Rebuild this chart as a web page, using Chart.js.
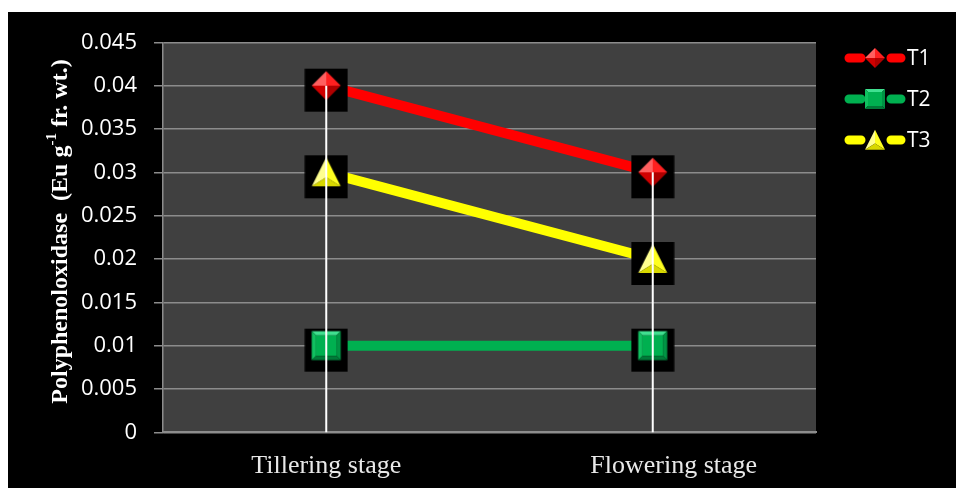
<!DOCTYPE html>
<html>
<head>
<meta charset="utf-8">
<script src="https://cdn.jsdelivr.net/npm/chart.js@4.4.1/dist/chart.umd.min.js"></script>
<style>
  html, body { margin: 0; padding: 0; background: #fff; }
  #marco { position: absolute; left: 8px; top: 12px; width: 948px; height: 476px; background: #000; }
</style>
</head>
<body>
<div id="marco"><canvas id="grafica" width="948" height="476"></canvas></div>
<script>
// datos
const etapas = ["Tillering stage", "Flowering stage"];
const nombres = ["T1", "T2", "T3"];
const valoresT1 = [0.04, 0.03];
const valoresT2 = [0.01, 0.01];
const valoresT3 = [0.03, 0.02];
const ejeY = { min: 0, max: 0.045, paso: 0.005 };
const tituloY = ["Polyphenoloxidase  (Eu g", "-1", " fr. wt.)"];

const colores = ["#ff0000", "#00b050", "#ffff00"];
const formas = ["diamond", "square", "triangle"];
const tonos = {
  "#ff0000": ["#ff6060", "#ff2020", "#d00000", "#b00000"],
  "#00b050": ["#40e090", "#10c060", "#009444", "#007a38"],
  "#ffff00": ["#ffff90", "#ffff20", "#d8d800", "#b8b800"]
};

function poligono(ctx, pts, color) {
  ctx.beginPath();
  ctx.moveTo(pts[0][0], pts[0][1]);
  for (let i = 1; i < pts.length; i++) ctx.lineTo(pts[i][0], pts[i][1]);
  ctx.closePath();
  ctx.fillStyle = color;
  ctx.fill();
}

// marcador con biselado sencillo
function dibujarMarcador(ctx, forma, cx, cy, s, color) {
  const [claro, medio, oscuro, masOscuro] = tonos[color];
  if (forma === "diamond") {
    const T = [cx, cy - s], R = [cx + s, cy], B = [cx, cy + s], L = [cx - s, cy], C = [cx, cy];
    poligono(ctx, [L, T, C], claro);
    poligono(ctx, [T, R, C], medio);
    poligono(ctx, [R, B, C], masOscuro);
    poligono(ctx, [B, L, C], oscuro);
  } else if (forma === "square") {
    const a = s * 0.7;
    poligono(ctx, [[cx - s, cy - s], [cx + s, cy - s], [cx + a, cy - a], [cx - a, cy - a]], claro);
    poligono(ctx, [[cx - s, cy - s], [cx - a, cy - a], [cx - a, cy + a], [cx - s, cy + s]], medio);
    poligono(ctx, [[cx + s, cy - s], [cx + s, cy + s], [cx + a, cy + a], [cx + a, cy - a]], oscuro);
    poligono(ctx, [[cx - s, cy + s], [cx - a, cy + a], [cx + a, cy + a], [cx + s, cy + s]], masOscuro);
    poligono(ctx, [[cx - a, cy - a], [cx + a, cy - a], [cx + a, cy + a], [cx - a, cy + a]], color);
  } else {
    const T = [cx, cy - s * 1.03], L = [cx - s, cy + s * 0.97], R = [cx + s, cy + s * 0.97], C = [cx, cy + s * 0.35];
    poligono(ctx, [T, L, C], claro);
    poligono(ctx, [T, R, C], medio);
    poligono(ctx, [L, R, C], oscuro);
  }
}

function imagenMarcador(forma, color) {
  const c = document.createElement("canvas");
  c.width = 44;
  c.height = 54;
  const ctx = c.getContext("2d");
  ctx.fillStyle = "#000";
  ctx.fillRect(0.5, 10, 43, 43);
  dibujarMarcador(ctx, forma, 22, 27, 14.5, color);
  return c;
}

const series = [valoresT1, valoresT2, valoresT3];

const fondoPlot = {
  id: "fondoPlot",
  beforeDraw(chart) {
    const { ctx, chartArea: a } = chart;
    ctx.save();
    ctx.fillStyle = "#404040";
    ctx.fillRect(a.left, a.top, a.right - a.left, a.bottom - a.top);
    ctx.restore();
  }
};

const extras = {
  id: "extras",
  afterDatasetsDraw(chart) {
    const { ctx, chartArea: a, scales } = chart;
    ctx.save();
    // lineas de caida
    ctx.strokeStyle = "#ffffff";
    ctx.lineWidth = 2;
    etapas.forEach((e, i) => {
      const maxV = Math.max(...series.map(s => s[i]));
      const x = scales.x.getPixelForValue(i);
      ctx.beginPath();
      ctx.moveTo(x, scales.y.getPixelForValue(maxV));
      ctx.lineTo(x, a.bottom);
      ctx.stroke();
    });
    ctx.restore();
  },
  afterDraw(chart) {
    const { ctx, scales } = chart;
    ctx.save();
    // etiquetas eje x
    ctx.fillStyle = "#e8e8e8";
    ctx.font = '26px "Liberation Serif"';
    ctx.textAlign = "center";
    ctx.textBaseline = "alphabetic";
    const desplaza = [0, 21];
    etapas.forEach((e, i) => {
      ctx.fillText(e, scales.x.getPixelForValue(i) + desplaza[i], 461);
    });

    // titulo eje y con superindice
    ctx.translate(53, 219.5);
    ctx.rotate(-Math.PI / 2);
    ctx.fillStyle = "#ffffff";
    ctx.textAlign = "left";
    ctx.textBaseline = "middle";
    const fNormal = 'bold 24px "Liberation Serif"';
    const fSup = 'bold 15px "Liberation Serif"';
    ctx.font = fNormal;
    const w0 = ctx.measureText(tituloY[0]).width;
    const w2 = ctx.measureText(tituloY[2]).width;
    ctx.font = fSup;
    const w1 = ctx.measureText(tituloY[1]).width;
    let x = -(w0 + w1 + w2) / 2;
    ctx.font = fNormal;
    ctx.fillText(tituloY[0], x, 0);
    x += w0;
    ctx.font = fSup;
    ctx.fillText(tituloY[1], x, -9);
    x += w1;
    ctx.font = fNormal;
    ctx.fillText(tituloY[2], x, 0);
    ctx.restore();

    // leyenda
    ctx.save();
    const filas = [46, 87, 128];
    nombres.forEach((n, i) => {
      const y = filas[i];
      ctx.strokeStyle = colores[i];
      ctx.lineWidth = 9;
      ctx.lineCap = "round";
      ctx.beginPath();
      ctx.moveTo(841, y); ctx.lineTo(853, y);
      ctx.moveTo(883, y); ctx.lineTo(893, y);
      ctx.stroke();
      dibujarMarcador(ctx, formas[i], 867, y, 10, colores[i]);
      ctx.fillStyle = "#ffffff";
      ctx.font = '21px "Open Sans"';
      ctx.textAlign = "left";
      ctx.textBaseline = "middle";
      ctx.fillText(n, 899, y + 1);
    });
    ctx.restore();
  }
};

new Chart(document.getElementById("grafica"), {
  type: "line",
  data: {
    labels: etapas,
    datasets: nombres.map((n, i) => ({
      label: n,
      data: series[i],
      borderColor: colores[i],
      backgroundColor: colores[i],
      borderWidth: 10,
      tension: 0,
      fill: false,
      pointStyle: imagenMarcador(formas[i], colores[i]),
      pointRadius: 10,
      pointHoverRadius: 10
    }))
  },
  options: {
    responsive: false,
    animation: false,
    events: [],
    layout: { padding: { top: 30.3, right: 140, bottom: 0, left: 0 } },
    plugins: {
      legend: { display: false },
      tooltip: { enabled: false }
    },
    scales: {
      x: {
        offset: true,
        grid: { display: false },
        ticks: { display: false },
        border: { display: true, color: "#8c8c8c", width: 2 },
        afterFit(scale) { scale.height = 55.7; }
      },
      y: {
        min: ejeY.min,
        max: ejeY.max,
        ticks: {
          stepSize: ejeY.paso,
          color: "#ffffff",
          font: { family: "Open Sans", size: 22 },
          padding: 17,
          callback: v => String(+v.toFixed(3))
        },
        grid: { color: "#8c8c8c", lineWidth: 1.5, tickLength: 9, tickColor: "#8c8c8c" },
        border: { display: true, color: "#8c8c8c", width: 1.5 },
        afterFit(scale) { scale.width = 155; }
      }
    }
  },
  plugins: [fondoPlot, extras]
});
</script>
</body>
</html>
